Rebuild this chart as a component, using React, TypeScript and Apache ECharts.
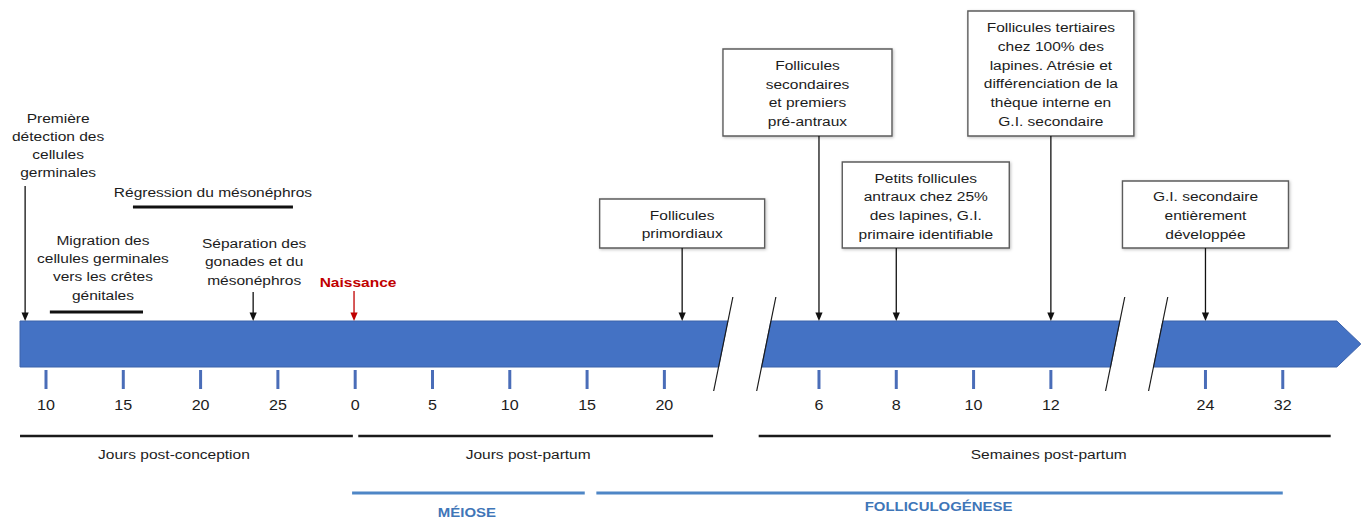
import React, { useEffect, useRef } from "react";
import * as echarts from "echarts";

// ---------- data (timeline slot units: one slot = one graduation step) ----------
const slotMin = -0.595;
const slotMax = 17.038;

const tickSlots = [0, 1, 2, 3, 4, 5, 6, 7, 8, 10, 11, 12, 13, 15, 16];
const tickLabels = ["10", "15", "20", "25", "0", "5", "10", "15", "20", "6", "8", "10", "12", "24", "32"];

const timelineStart = -0.336;
const timelineEnd = 17.01;
const breakSlots = [9.04, 14.11];

const eventSlots = [-0.27, 2.68, 3.985, 8.23, 10, 11, 13, 15];
const eventLabels = [
  "Première\ndétection des\ncellules\ngerminales",
  "Séparation des\ngonades et du\nmésonéphros",
  "Naissance",
  "Follicules\nprimordiaux",
  "Follicules\nsecondaires\net premiers\npré-antraux",
  "Petits follicules\nantraux chez 25%\ndes lapines, G.I.\nprimaire identifiable",
  "Follicules tertiaires\nchez 100% des\nlapines. Atrésie et\ndifférenciation de la\nthèque interne en\nG.I. secondaire",
  "G.I. secondaire\nentièrement\ndéveloppée",
];

const rangeLabels = ["Régression du mésonéphros", "Migration des\ncellules germinales\nvers les crêtes\ngénitales"];
const rangeStarts = [1.125, 0.05];
const rangeEnds = [3.195, 1.255];

const periodLabels = ["Jours post-conception", "Jours post-partum", "Semaines post-partum"];
const periodStarts = [-0.336, 4.04, 9.22];
const periodEnds = [3.97, 8.63, 16.62];

const phaseLabels = ["MÉIOSE", "FOLLICULOGÉNESE"];
const phaseStarts = [3.96, 7.12];
const phaseEnds = [6.97, 16.0];

// ---------- layout & style ----------
const W = 1363;
const H = 518;
const BAR_TOP = 321;
const BAR_BOTTOM = 367;
const BAR_MID = (BAR_TOP + BAR_BOTTOM) / 2;
const SLANT = 4.6; // px offset of slanted edges at bar top/bottom
const HALF_GAP = 21.5; // half width of the break gap, px
const HEAD = 24; // arrow head length px
const FONT = "'Liberation Sans', Arial, Helvetica, sans-serif";
const SX = 1.15;
const BLUE = "#4472C4";
const TEXT = "#1c1c1c";

const eventLayout: any[] = [
  { kind: "free", textY: 145.5, textDx: 33, arrowTop: 186, lh: 18.2 },
  { kind: "free", textY: 261.5, textDx: 1, arrowTop: 292, lh: 18.5 },
  { kind: "red", textY: 282, textDx: 4, arrowTop: 291 },
  { kind: "box", boxTop: 199, boxBottom: 248, boxW: 165, textDx: 0 },
  { kind: "box", boxTop: 49, boxBottom: 136, boxW: 169, textDx: -11.5 },
  { kind: "box", boxTop: 162, boxBottom: 248, boxW: 167, textDx: 29.5 },
  { kind: "box", boxTop: 11, boxBottom: 136, boxW: 166, textDx: 0 },
  { kind: "box", boxTop: 181, boxBottom: 248, boxW: 166, textDx: 0 },
];
const rangeLayout = [
  { lineY: 207, textY: 192, textDx: 0 },
  { lineY: 312, textY: 267.5, textDx: 6.5 },
];
const periodLayout = { lineY: 436, textY: 454, textDx: [-12.5, -7.5, 4] };
const phaseLayout = { lineY: 493, textY: [512, 506], textDx: [-1.5, -1] };

function textEl(text: string, x: number, y: number, o: any = {}) {
  return {
    type: "text",
    x,
    y,
    scaleX: SX,
    style: {
      text,
      x: 0,
      y: 0,
      align: "center",
      verticalAlign: "middle",
      fill: o.fill || TEXT,
      fontSize: o.size || 13.5,
      fontFamily: FONT,
      fontWeight: o.weight || "normal",
      lineHeight: o.lh || 18.7,
    },
  };
}

function arrowEls(x: number, yTop: number, yTip: number, color: string) {
  return [
    { type: "line", shape: { x1: x, y1: yTop, x2: x, y2: yTip - 6 }, style: { stroke: color, lineWidth: 1.3 } },
    {
      type: "polygon",
      shape: { points: [[x - 3.6, yTip - 8.5], [x + 3.6, yTip - 8.5], [x, yTip]] },
      style: { fill: color },
    },
  ];
}

export default function App() {
  const ref = useRef<HTMLDivElement>(null);

  useEffect(() => {
    if (!ref.current) return;
    const chart = echarts.init(ref.current, undefined, { renderer: "svg" });

    const bounds = [timelineStart, ...breakSlots, timelineEnd];
    const pieces = bounds.slice(0, -1).map((b, i) => [b, bounds[i + 1], BAR_MID]);

    const option: any = {
      animation: false,
      backgroundColor: "#ffffff",
      grid: { left: 0, right: 0, top: 0, bottom: 0, containLabel: false },
      xAxis: { type: "value", min: slotMin, max: slotMax, show: false },
      yAxis: { type: "value", min: 0, max: H, inverse: true, show: false },
      series: [
        // timeline bar pieces
        {
          type: "custom",
          coordinateSystem: "cartesian2d",
          clip: false,
          silent: true,
          encode: { x: [0, 1], y: 2 },
          data: pieces,
          renderItem: (params: any, api: any) => {
            const i = params.dataIndex;
            const n = pieces.length;
            const [x0, top] = api.coord([api.value(0), BAR_TOP]);
            const [x1, bot] = api.coord([api.value(1), BAR_BOTTOM]);
            const mid = (top + bot) / 2;
            let pts: number[][];
            const l0 = i === 0 ? x0 : x0 + HALF_GAP;
            const r1 = x1 - HALF_GAP;
            if (i === 0) {
              pts = [[l0, top], [r1 + SLANT, top], [r1 - SLANT, bot], [l0, bot]];
            } else if (i === n - 1) {
              pts = [[l0 + SLANT, top], [x1 - HEAD, top], [x1, mid], [x1 - HEAD, bot], [l0 - SLANT, bot]];
            } else {
              pts = [[l0 + SLANT, top], [r1 + SLANT, top], [r1 - SLANT, bot], [l0 - SLANT, bot]];
            }
            return {
              type: "polygon",
              shape: { points: pts },
              style: { fill: BLUE, stroke: "#3B62AA", lineWidth: 1 },
            };
          },
        },
        // break marks
        {
          type: "custom",
          coordinateSystem: "cartesian2d",
          clip: false,
          silent: true,
          data: breakSlots.map((s) => [s, BAR_MID]),
          renderItem: (params: any, api: any) => {
            const [x, y] = api.coord([api.value(0), api.value(1)]);
            const ch: any[] = [];
            [-HALF_GAP, HALF_GAP].forEach((d) => {
              ch.push({
                type: "line",
                shape: { x1: x + d + 9.6, y1: y - 47, x2: x + d - 9.6, y2: y + 47 },
                style: { stroke: "#1a1a1a", lineWidth: 1.2 },
              });
            });
            return { type: "group", children: ch };
          },
        },
        // ticks and labels
        {
          type: "custom",
          coordinateSystem: "cartesian2d",
          clip: false,
          silent: true,
          data: tickSlots.map((s) => [s, 370]),
          renderItem: (params: any, api: any) => {
            const [x, y] = api.coord([api.value(0), api.value(1)]);
            return {
              type: "group",
              children: [
                { type: "line", shape: { x1: x, y1: y, x2: x, y2: y + 19 }, style: { stroke: "#4A6DB8", lineWidth: 3 } },
                textEl(tickLabels[params.dataIndex], x, y + 35, { size: 14 }),
              ],
            };
          },
        },
        // events
        {
          type: "custom",
          coordinateSystem: "cartesian2d",
          clip: false,
          silent: true,
          data: eventSlots.map((s) => [s, BAR_TOP]),
          renderItem: (params: any, api: any) => {
            const i = params.dataIndex;
            const L = eventLayout[i];
            const [x, yTip] = api.coord([api.value(0), api.value(1)]);
            const ch: any[] = [];
            if (L.kind === "box") {
              const cx = x + L.textDx;
              ch.push({
                type: "rect",
                shape: { x: cx - L.boxW / 2, y: L.boxTop, width: L.boxW, height: L.boxBottom - L.boxTop },
                style: {
                  fill: "#ffffff",
                  stroke: "#5c5c5c",
                  lineWidth: 1.4,
                  shadowBlur: 3,
                  shadowColor: "rgba(0,0,0,0.25)",
                  shadowOffsetX: 1,
                  shadowOffsetY: 1,
                },
              });
              ch.push(textEl(eventLabels[i], cx, (L.boxTop + L.boxBottom) / 2 + 1));
              ch.push(...arrowEls(x, L.boxBottom, yTip, "#111111"));
            } else if (L.kind === "red") {
              ch.push(textEl(eventLabels[i], x + L.textDx, L.textY, { fill: "#C00000", weight: "bold" }));
              ch.push(...arrowEls(x, L.arrowTop, yTip, "#C00000"));
            } else {
              ch.push(textEl(eventLabels[i], x + L.textDx, L.textY, { lh: L.lh }));
              ch.push(...arrowEls(x, L.arrowTop, yTip, "#111111"));
            }
            return { type: "group", children: ch };
          },
        },
        // ranges (black bars above timeline)
        {
          type: "custom",
          coordinateSystem: "cartesian2d",
          clip: false,
          silent: true,
          encode: { x: [0, 1], y: 2 },
          data: rangeStarts.map((s, i) => [s, rangeEnds[i], rangeLayout[i].lineY]),
          renderItem: (params: any, api: any) => {
            const i = params.dataIndex;
            const [x0, y] = api.coord([api.value(0), api.value(2)]);
            const [x1] = api.coord([api.value(1), api.value(2)]);
            const L = rangeLayout[i];
            return {
              type: "group",
              children: [
                { type: "line", shape: { x1: x0, y1: y, x2: x1, y2: y }, style: { stroke: "#111", lineWidth: 3 } },
                textEl(rangeLabels[i], (x0 + x1) / 2 + L.textDx, L.textY, { lh: 18.4 }),
              ],
            };
          },
        },
        // periods (black lines below ticks)
        {
          type: "custom",
          coordinateSystem: "cartesian2d",
          clip: false,
          silent: true,
          encode: { x: [0, 1], y: 2 },
          data: periodStarts.map((s, i) => [s, periodEnds[i], periodLayout.lineY]),
          renderItem: (params: any, api: any) => {
            const i = params.dataIndex;
            const [x0, y] = api.coord([api.value(0), api.value(2)]);
            const [x1] = api.coord([api.value(1), api.value(2)]);
            return {
              type: "group",
              children: [
                { type: "line", shape: { x1: x0, y1: y, x2: x1, y2: y }, style: { stroke: "#1a1a1a", lineWidth: 2.4 } },
                textEl(periodLabels[i], (x0 + x1) / 2 + periodLayout.textDx[i], periodLayout.textY),
              ],
            };
          },
        },
        // phases (blue lines)
        {
          type: "custom",
          coordinateSystem: "cartesian2d",
          clip: false,
          silent: true,
          encode: { x: [0, 1], y: 2 },
          data: phaseStarts.map((s, i) => [s, phaseEnds[i], phaseLayout.lineY]),
          renderItem: (params: any, api: any) => {
            const i = params.dataIndex;
            const [x0, y] = api.coord([api.value(0), api.value(2)]);
            const [x1] = api.coord([api.value(1), api.value(2)]);
            return {
              type: "group",
              children: [
                { type: "line", shape: { x1: x0, y1: y, x2: x1, y2: y }, style: { stroke: "#4E86C6", lineWidth: 3 } },
                textEl(phaseLabels[i], (x0 + x1) / 2 + phaseLayout.textDx[i], phaseLayout.textY[i], {
                  fill: "#3F76B8",
                  weight: "bold",
                  size: 13,
                }),
              ],
            };
          },
        },
      ],
    };

    chart.setOption(option);
    return () => chart.dispose();
  }, []);

  return (
    <div
      ref={ref}
      style={{ position: "fixed", left: 0, top: 0, width: W, height: H, background: "#ffffff" }}
    />
  );
}
